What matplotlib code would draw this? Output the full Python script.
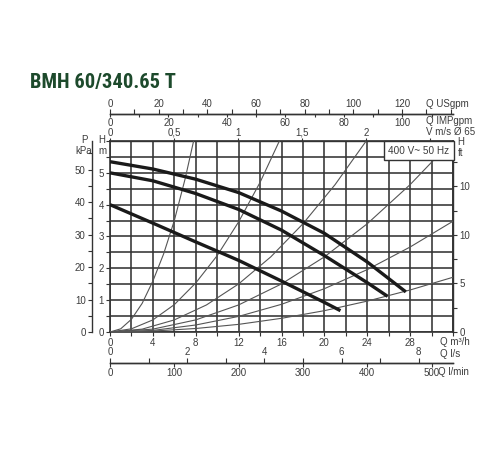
# Pump performance chart BMH 60/340.65 T, redrawn with matplotlib.

import numpy as np
import matplotlib.pyplot as plt
from matplotlib import font_manager

plt.rcParams['font.family'] = ['Liberation Sans', 'DejaVu Sans']

# pump curves (Q m3/h, H m)
q_top = [0, 4, 8, 12, 16, 20, 24, 27.6]
h_top = [5.35, 5.12, 4.8, 4.38, 3.8, 3.1, 2.2, 1.26]
q_mid = [0, 4, 8, 12, 16, 20, 24, 25.9]
h_mid = [5.0, 4.75, 4.35, 3.85, 3.2, 2.4, 1.55, 1.12]
q_low = [0, 4, 8, 12, 16, 20, 21.5]
h_low = [4.0, 3.42, 2.83, 2.25, 1.6, 0.93, 0.67]

# system curves (thin lines from the origin)
sys1_q = [0, 1, 2, 3, 4, 5, 6, 7, 7.8]
sys1_h = [0, 0.1, 0.4, 0.9, 1.6, 2.45, 3.5, 4.8, 6.0]
sys2_q = [0, 2, 4, 6, 8, 10, 12, 14, 15.8]
sys2_h = [0, 0.1, 0.38, 0.86, 1.54, 2.4, 3.46, 4.7, 6.0]
sys3_q = [0, 3, 6, 9, 12, 15, 18, 21, 23.9]
sys3_h = [0, 0.09, 0.38, 0.85, 1.51, 2.36, 3.4, 4.63, 6.0]
sys4_q = [0, 4, 8, 12, 16, 20, 24, 28, 31.9]
sys4_h = [0, 0.09, 0.38, 0.85, 1.51, 2.36, 3.4, 4.63, 6.0]
sys5_q = [0, 4, 8, 12, 16, 20, 24, 28, 32]
sys5_h = [0, 0.05, 0.22, 0.49, 0.87, 1.36, 1.96, 2.67, 3.48]
sys6_q = [0, 4, 8, 12, 16, 20, 24, 28, 32]
sys6_h = [0, 0.03, 0.11, 0.24, 0.43, 0.67, 0.97, 1.32, 1.72]

# axis ticks
q_ticks = list(range(0, 33, 2))
q_labels = [0, 4, 8, 12, 16, 20, 24, 28]
h_ticks = [i * 0.5 for i in range(13)]
h_labels = [0, 1, 2, 3, 4, 5]
v_ticks = [0, 0.5, 1, 1.5, 2, 2.5]
v_labels = ['0', '0,5', '1', '1,5', '2', '']
usg_ticks = list(range(0, 141, 10))
usg_labels = [0, 20, 40, 60, 80, 100, 120]
imp_ticks = list(range(0, 111, 10))
imp_labels = [0, 20, 40, 60, 80, 100]
ls_ticks = list(range(0, 9))
ls_labels = [0, 2, 4, 6, 8]
lmin_ticks = [0, 100, 200, 300, 400, 500]
ft_ticks = [0, 2.5, 5, 7.5, 10, 12.5, 15, 17.5]
ft_labels = ['0', '', '5', '', '10', '', '10', '']
kpa_ticks = list(range(0, 56, 5))
kpa_labels = [0, 10, 20, 30, 40, 50]

W, HP = 500, 450
X0, X1, Y0, Y1 = 110, 453, 141, 332
INK = '#333333'
TXT = '#3c3c3c'
FS = 7

fig = plt.figure(figsize=(W / 100, HP / 100), dpi=100)
ax = fig.add_axes([X0 / W, 1 - Y1 / HP, (X1 - X0) / W, (Y1 - Y0) / HP])
ax.set_xlim(0, 32)
ax.set_ylim(0, 6)


def lab(ticks, shown):
    return [str(t) if t in shown else '' for t in ticks]


ax.set_xticks(q_ticks, lab(q_ticks, q_labels))
ax.set_yticks(h_ticks, [str(int(t)) if t in h_labels else '' for t in h_ticks])
ax.grid(True, color=INK, lw=1.15)
ax.set_axisbelow(True)
for s in ax.spines.values():
    s.set_color(INK)
    s.set_linewidth(1.2)
ax.tick_params(labelsize=FS, labelcolor=TXT, color=INK, length=3, pad=1.5)

for q, h in [(sys1_q, sys1_h), (sys2_q, sys2_h), (sys3_q, sys3_h),
             (sys4_q, sys4_h), (sys5_q, sys5_h), (sys6_q, sys6_h)]:
    ax.plot(q, h, color='#555555', lw=0.8, zorder=3)
for q, h in [(q_top, h_top), (q_mid, h_mid), (q_low, h_low)]:
    ax.plot(q, h, color='#1a1a1a', lw=2.4, solid_capstyle='butt', zorder=4)

ax.text(0.99, 0.975, '400 V~ 50 Hz', transform=ax.transAxes, ha='right', va='top',
        fontsize=7.2, color=TXT, zorder=6,
        bbox=dict(boxstyle='square,pad=0.45', fc='white', ec=INK, lw=1.0))


def style(sec, length=3, pad=1.5):
    sec.tick_params(labelsize=FS, labelcolor=TXT, color=INK, length=length, pad=pad)
    for s in sec.spines.values():
        s.set_color(INK)
        s.set_linewidth(1.0)


# velocity on top edge
v = ax.secondary_xaxis('top', functions=(lambda q: q / 11.95, lambda x: x * 11.95))
v.set_xticks(v_ticks, v_labels)
style(v, length=2, pad=0.3)

# US / imperial gallons line above the plot
top_pos = (Y1 - 114) / (Y1 - Y0)
usg = ax.secondary_xaxis(top_pos, functions=(lambda q: q * 4.403, lambda x: x / 4.403))
usg.set_alignment('top')
usg.set_xticks(usg_ticks, lab(usg_ticks, usg_labels))
style(usg, length=3.5, pad=0.3)
imp = ax.secondary_xaxis(top_pos, functions=(lambda q: q * 3.666, lambda x: x / 3.666))
imp.set_alignment('bottom')
imp.set_xticks(imp_ticks, lab(imp_ticks, imp_labels))
style(imp, length=2.5, pad=0.2)

# l/s and l/min line below the plot
bot_pos = (Y1 - 363) / (Y1 - Y0)
ls = ax.secondary_xaxis(bot_pos, functions=(lambda q: q / 3.6, lambda x: x * 3.6))
ls.set_alignment('top')
ls.set_xticks(ls_ticks, lab(ls_ticks, ls_labels))
style(ls, length=3.5, pad=0.5)
lmin = ax.secondary_xaxis(bot_pos, functions=(lambda q: q * 16.667, lambda x: x / 16.667))
lmin.set_alignment('bottom')
lmin.set_xticks(lmin_ticks, [str(t) for t in lmin_ticks])
style(lmin, length=3, pad=0.5)

# head in feet on the right
ft = ax.secondary_yaxis('right', functions=(lambda h: h * 3.2808, lambda x: x / 3.2808))
ft.set_yticks(ft_ticks, ft_labels)
style(ft)

# pressure in kPa on the far left
kpa = ax.secondary_yaxis((92 - X0) / (X1 - X0),
                         functions=(lambda h: h * 9.807, lambda x: x / 9.807))
kpa.set_yticks(kpa_ticks, lab(kpa_ticks, kpa_labels))
style(kpa)


def ftext(x, y, s, **kw):
    kw.setdefault('fontsize', FS)
    kw.setdefault('color', TXT)
    return fig.text(x / W, 1 - y / HP, s, va='center', **kw)


ftext(426, 104, 'Q USgpm')
ftext(426, 121, 'Q IMPgpm')
ftext(426, 132, 'V m/s Ø 65')
ftext(440, 342, 'Q m³/h')
ftext(440, 354, 'Q l/s')
ftext(438, 372, 'Q l/min')
ftext(84, 140, 'P', ha='center')
ftext(84, 151, 'kPa', ha='center')
ftext(102, 140, 'H', ha='center')
ftext(102, 151, 'm', ha='center')
ftext(461, 142, 'H', ha='center')
ftext(461, 153, 'ft', ha='center')

# title: look for a narrow bold face, as in the original artwork
narrow = [f for f in font_manager.fontManager.ttflist
          if ('Narrow' in f.name or 'Condensed' in f.name
              or str(f.stretch) in ('condensed', 'semi-condensed', 'extra-condensed'))
          and str(f.weight) in ('bold', '700', 'semibold', '600')
          and f.style == 'normal']
narrow.sort(key=lambda f: (0 if 'Liberation' in f.name else
                           1 if 'Roboto' in f.name else
                           2 if 'Open' in f.name else 3))
if narrow:
    tprops = font_manager.FontProperties(fname=narrow[0].fname)
else:
    tprops = font_manager.FontProperties(family='Liberation Sans', weight='bold')

title = fig.text(30 / W, 1 - 88 / HP, 'BMH 60/340.65 T', fontproperties=tprops,
                 color='#1d4a2c', va='baseline')
title.set_fontsize(18)
r = fig.canvas.get_renderer()
w18 = title.get_window_extent(r).width
title.set_fontsize(min(18, 18 * 146 / w18))

fig.savefig('out.png', dpi=100)
